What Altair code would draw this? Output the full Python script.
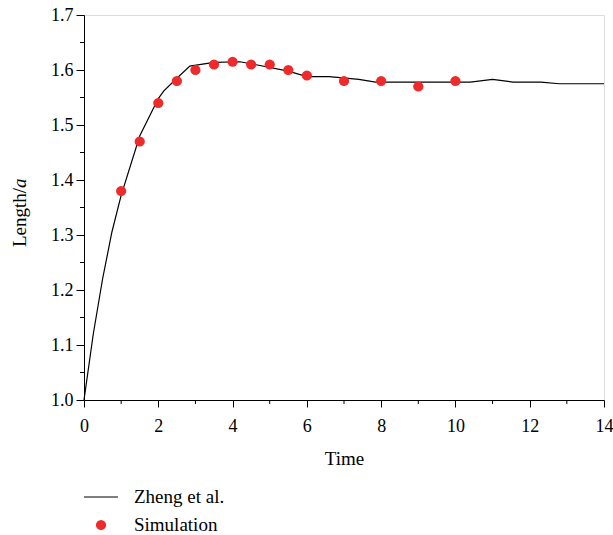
import altair as alt
import pandas as pd

# Reference curve (Zheng et al.)
line_t = [0, 0.25, 0.5, 0.75, 1.0, 1.5, 2.0, 2.15, 2.5, 2.85, 3.5, 4.2, 4.6, 5.5, 6.0, 6.6,
          7.4, 7.85, 10.4, 11.0, 11.55, 12.3, 12.8, 14.0]
line_v = [1.0, 1.12, 1.22, 1.305, 1.372, 1.48, 1.548, 1.562, 1.585, 1.607, 1.614, 1.615, 1.610,
          1.598, 1.588, 1.588, 1.583, 1.578, 1.578, 1.583, 1.578, 1.578, 1.575, 1.575]

# Simulation points
sim_t = [1, 1.5, 2, 2.5, 3, 3.5, 4, 4.5, 5, 5.5, 6, 7, 8, 9, 10]
sim_v = [1.38, 1.47, 1.54, 1.58, 1.60, 1.61, 1.615, 1.61, 1.61, 1.60, 1.59, 1.58, 1.58, 1.57, 1.58]

x_major = [0, 2, 4, 6, 8, 10, 12, 14]
x_minor = [1, 3, 5, 7, 9, 11, 13]
y_major = [1.0, 1.1, 1.2, 1.3, 1.4, 1.5, 1.6, 1.7]
y_minor = [1.05, 1.15, 1.25, 1.35, 1.45, 1.55, 1.65]

FONT = "Liberation Serif"
RED = "#ee2a2a"

line_df = pd.DataFrame({"t": line_t, "v": line_v})
sim_df = pd.DataFrame({"t": sim_t, "v": sim_v})
xmin_df = pd.DataFrame({"t": x_minor})
ymin_df = pd.DataFrame({"v": y_minor})
one = pd.DataFrame({"k": [0]})

xs = alt.Scale(domain=[0, 14], nice=False)
ys = alt.Scale(domain=[1.0, 1.7], nice=False, zero=False)

xaxis = alt.Axis(values=x_major, title="Time", grid=False, tickSize=7, tickColor="black",
                 domainColor="black", labelFont=FONT, labelFontSize=18, labelColor="black",
                 labelPadding=10, labelFlush=False, titleFont=FONT, titleFontSize=19,
                 titleFontWeight="normal", titleColor="black", titlePadding=14, format="d")
yaxis = alt.Axis(values=y_major, title=None, grid=False, tickSize=8, tickColor="black",
                 domainColor="black", labelFont=FONT, labelFontSize=18, labelColor="black",
                 labelPadding=3, labelFlush=False, format=".1f")

curve = alt.Chart(line_df).mark_line(color="black", strokeWidth=1.2).encode(
    x=alt.X("t:Q", scale=xs, axis=xaxis),
    y=alt.Y("v:Q", scale=ys, axis=yaxis),
)
pts = alt.Chart(sim_df).mark_point(filled=True, color=RED, size=105, opacity=1).encode(
    x=alt.X("t:Q", scale=xs, axis=xaxis),
    y=alt.Y("v:Q", scale=ys, axis=yaxis),
)
xminor = alt.Chart(xmin_df).mark_rule(color="black", strokeWidth=1).encode(
    x=alt.X("t:Q", scale=xs, axis=xaxis),
    y=alt.value(385), y2=alt.value(389),
)
yminor = alt.Chart(ymin_df).mark_rule(color="black", strokeWidth=1).encode(
    y=alt.Y("v:Q", scale=ys, axis=yaxis),
    x=alt.value(0), x2=alt.value(-4),
)

ytitle1 = alt.Chart(one).mark_text(text="Length/", font=FONT, fontSize=19, angle=270,
                                   align="right", baseline="middle", color="black").encode(
    x=alt.value(-64), y=alt.value(173))
ytitle2 = alt.Chart(one).mark_text(text="a", font=FONT, fontSize=19, fontStyle="italic",
                                   angle=270, align="left", baseline="middle", color="black").encode(
    x=alt.value(-64), y=alt.value(173))

leg_line = alt.Chart(one).mark_rule(color="black", strokeWidth=1.2).encode(
    x=alt.value(0), x2=alt.value(34), y=alt.value(482))
leg_dot = alt.Chart(one).mark_point(filled=True, color=RED, size=105, opacity=1).encode(
    x=alt.value(17), y=alt.value(510))
leg_t1 = alt.Chart(one).mark_text(text="Zheng et al.", font=FONT, fontSize=19, align="left",
                                  baseline="alphabetic", color="black").encode(
    x=alt.value(50), y=alt.value(488))
leg_t2 = alt.Chart(one).mark_text(text="Simulation", font=FONT, fontSize=19, align="left",
                                  baseline="alphabetic", color="black").encode(
    x=alt.value(50), y=alt.value(516))

chart = alt.layer(xminor, yminor, curve, pts, ytitle1, ytitle2, leg_line, leg_dot, leg_t1, leg_t2).properties(
    width=520, height=385,
    autosize=alt.AutoSizeParams(type="none"),
    padding={"left": 84, "top": 15, "right": 9, "bottom": 135},
).configure_view(stroke="black", strokeWidth=1.2).configure(background="white")

chart.save("out.html", embed_options={"renderer": "svg", "actions": False})
